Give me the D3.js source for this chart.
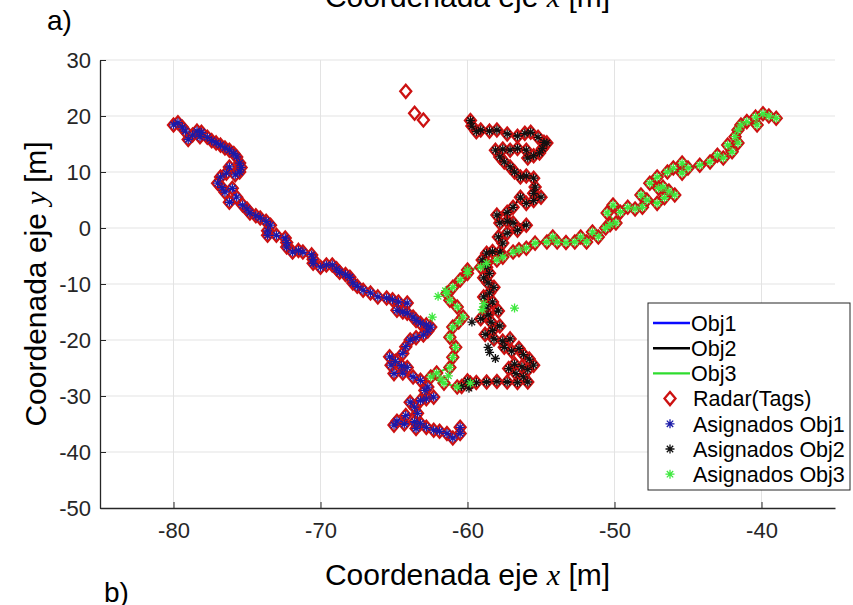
<!DOCTYPE html>
<html><head><meta charset="utf-8">
<script src="https://cdn.jsdelivr.net/npm/d3@7"></script>
<style>
html,body{margin:0;padding:0;background:#fff;}
svg{display:block;font-family:"Liberation Sans",Arial,Helvetica,sans-serif;}
</style></head>
<body><svg id="chart" width="853" height="605"></svg>
<script>
// ---------------- data ----------------
const xTicks = [-80, -70, -60, -50, -40];
const yTicks = [-50, -40, -30, -20, -10, 0, 10, 20, 30];
const seriesNames = ["Obj1", "Obj2", "Obj3"];
const legendLabels = ["Obj1", "Obj2", "Obj3", "Radar(Tags)", "Asignados Obj1", "Asignados Obj2", "Asignados Obj3"];

const obj1 = [[-80,18.4],[-79.7,18.8],[-79.4,18.0],[-79.2,17.3],[-79,15.8],[-78.7,16.6],[-78.4,17.3],[-78.2,16.3],[-78.1,17.1],[-77.7,16.2],[-77.4,15.6],[-77.1,15.2],[-76.8,14.8],[-76.5,14.3],[-76.2,13.9],[-75.9,13.3],[-75.7,12.7],[-75.5,11.6],[-75.4,10.8],[-75.5,10.0],[-75.8,9.5],[-76.2,10.9],[-76.4,9.8],[-76.8,9.1],[-77.0,8.0],[-76.7,7.2],[-76.5,6.4],[-76.0,7.1],[-75.7,5.5],[-76.2,4.6],[-75.3,4.1],[-75.0,3.4],[-74.8,2.7],[-74.4,2.2],[-74.1,1.8],[-73.7,1.2],[-73.4,0.5],[-73.6,-0.5],[-73.6,-1.3],[-73.0,-1.3],[-72.4,-1.8],[-72.3,-2.6],[-72.3,-3.4],[-71.9,-4.3],[-71.5,-4.0],[-71.2,-4.3],[-70.6,-4.8],[-70.5,-5.6],[-70.5,-6.3],[-70.0,-7.0],[-69.6,-6.6],[-69.2,-6.6],[-68.9,-7.3],[-68.7,-7.9],[-68.3,-8.3],[-68.0,-8.8],[-67.8,-9.8],[-67.5,-10.4],[-67.1,-11.1],[-66.6,-11.6],[-66.1,-12.3],[-65.5,-12.5],[-65.1,-12.8],[-64.7,-13.2],[-64.1,-13.4],[-64.8,-14.7],[-64.4,-15.0],[-64.1,-15.2],[-63.7,-15.9],[-63.5,-16.5],[-63.2,-17.0],[-62.8,-17.3],[-62.5,-17.7],[-62.7,-18.4],[-63.0,-19.1],[-63.5,-19.6],[-63.9,-20.0],[-64.2,-21.2],[-64.4,-22.4],[-65.3,-23.0],[-64.9,-23.8],[-65.2,-24.5],[-64.5,-24.6],[-64.1,-24.9],[-65.0,-26.0],[-64.4,-25.9],[-63.7,-26.6],[-63.2,-27.2],[-62.7,-28.4],[-62.9,-29.0],[-62.3,-30.2],[-62.8,-30.5],[-63.2,-30.8],[-63.9,-31.1],[-63.6,-32.0],[-63.4,-33.1],[-64.2,-33.5],[-64.8,-34.5],[-65.0,-35.2],[-64.3,-35.0],[-63.6,-34.6],[-63.2,-34.9],[-63.5,-35.8],[-62.8,-35.6],[-62.3,-36.1],[-61.9,-36.3],[-61.4,-36.7],[-61.0,-37.5],[-60.5,-36.7],[-60.5,-35.6]];

const obj2 = [[-59.8,19.2],[-59.7,18.2],[-59.4,17.2],[-59.1,17.5],[-58.5,17.3],[-58.0,17.5],[-57.3,16.8],[-56.6,16.4],[-56.1,16.9],[-55.7,17.1],[-55.2,16.2],[-54.8,15.3],[-54.6,15.2],[-54.9,14.2],[-55.1,13.4],[-55.5,12.9],[-55.9,12.5],[-56.0,13.9],[-56.6,14.2],[-57.1,13.9],[-57.6,14.1],[-58.1,13.9],[-57.8,12.7],[-57.5,11.8],[-57.1,10.9],[-56.8,10.0],[-56.4,9.1],[-56.0,9.3],[-55.5,8.9],[-55.4,7.3],[-55.5,6.2],[-55.0,5.5],[-55.5,4.9],[-56.0,4.4],[-56.4,5.5],[-56.9,3.7],[-57.3,2.8],[-58.0,2.3],[-57.8,0.9],[-57.3,1.2],[-56.9,0.9],[-56.0,0.5],[-56.6,-0.4],[-57.3,-0.9],[-57.9,-1.6],[-57.6,-2.7],[-57.8,-4.3],[-58.3,-4.2],[-58.7,-4.5],[-59.0,-5.7],[-58.7,-7.0],[-58.5,-8.1],[-58.9,-8.9],[-58.6,-9.8],[-58.2,-10.6],[-58.5,-11.6],[-58.9,-12.3],[-58.7,-14.1],[-58.3,-13.2],[-57.9,-14.8],[-58.6,-15.5],[-59.1,-16.2],[-58.4,-16.8],[-57.8,-17.5],[-58.3,-18.3],[-58.8,-19.0],[-58.2,-19.8],[-57.6,-20.2],[-57.1,-19.8],[-57.5,-21.3],[-57.0,-22.0],[-56.5,-21.5],[-56.2,-22.6],[-55.8,-23.4],[-55.5,-24.5],[-55.9,-25.3],[-56.3,-24.8],[-56.8,-24.3],[-57.2,-25.1],[-56.7,-26.0],[-56.2,-26.6],[-55.9,-27.5],[-56.6,-27.6],[-57.3,-27.5],[-58.0,-27.4],[-58.7,-27.5],[-59.4,-27.6],[-60.0,-27.3],[-60.4,-28.3]];

const obj3 = [[-39.0,19.6],[-39.5,20.0],[-39.9,20.4],[-40.4,19.8],[-40.3,18.4],[-41.0,19.0],[-41.4,18.4],[-41.6,17.5],[-41.8,16.3],[-41.6,15.2],[-42.3,14.8],[-42.0,13.6],[-42.6,12.5],[-43.0,13.0],[-43.5,11.8],[-44.2,11.2],[-45.0,10.7],[-45.4,11.6],[-45.4,9.8],[-46.0,10.7],[-46.4,10.0],[-47.1,9.1],[-47.6,8.0],[-47.0,7.1],[-46.7,7.3],[-46.3,6.6],[-45.9,5.9],[-46.6,5.4],[-47.1,4.4],[-47.8,5.0],[-48.2,5.9],[-48.1,3.7],[-48.6,3.4],[-49.1,3.7],[-49.6,2.8],[-50.1,4.1],[-50.5,2.7],[-49.9,0.9],[-50.3,0.6],[-50.6,0.0],[-51.1,-1.6],[-51.5,-0.7],[-51.9,-2.5],[-52.3,-1.6],[-52.7,-2.5],[-53.3,-2.6],[-53.9,-2.5],[-54.2,-1.6],[-54.6,-2.5],[-55.4,-2.7],[-56.0,-3.6],[-56.5,-3.9],[-56.9,-4.3],[-57.6,-5.2],[-58.0,-5.7],[-58.7,-6.3],[-59.1,-7.0],[-60.0,-7.5],[-60.0,-8.1],[-60.5,-9.3],[-61.0,-10.6],[-61.4,-11.7],[-61.2,-12.9],[-60.7,-14.1],[-60.3,-15.9],[-60.6,-16.8],[-61.0,-17.7],[-61.2,-19.5],[-60.8,-21.3],[-61.0,-23.1],[-61.2,-24.9],[-62.1,-25.9],[-62.5,-26.6],[-61.6,-27.7],[-60.7,-28.4],[-59.8,-27.7]];

// radar tags with no assignment
const extraTags = [[-64.2,24.4],[-63.6,20.5],[-63.0,19.3]];
// assigned stars that lie off the tracks
const extraStars2 = [[-59.7,-16.8],[-58.6,-21.3],[-58.5,-22.2],[-58.1,-23.3],[-59.9,-28.6]];
const extraStars3 = [[-56.8,-14.3],[-62.4,-15.9],[-62.0,-12.2],[-61.5,-11.2],[-58.9,-13.5],[-59.0,-14.6],[-61.8,-27.0],[-61.3,-26.4]];

// ---------------- drawing ----------------
const colors = {obj1:"#0a0aff", obj2:"#000000", obj3:"#2edc2e", tag:"#cc1111",
  star1:"#1a1aa8", star2:"#111111", star3:"#3ee83e"};
const svg = d3.select("#chart");
const x = d3.scaleLinear().domain([-85,-35]).range([100,835]);
const y = d3.scaleLinear().domain([-50,30]).range([508,60]);

// grid
const grid = svg.append("g");
grid.selectAll("line.v").data(xTicks).enter().append("line")
  .attr("x1", d=>x(d)).attr("x2", d=>x(d)).attr("y1", y(30)).attr("y2", y(-50))
  .attr("stroke","#e3e3e3").attr("stroke-width",1);
grid.selectAll("line.h").data(yTicks.filter(d=>d>-50)).enter().append("line")
  .attr("y1", d=>y(d)).attr("y2", d=>y(d)).attr("x1", x(-85)).attr("x2", x(-35))
  .attr("stroke","#e3e3e3").attr("stroke-width",1);

// axes
const fontTick = 22;
const xAxis = svg.append("g").attr("transform",`translate(0,${y(-50)})`)
  .call(d3.axisBottom(x).tickValues(xTicks).tickSizeInner(-6).tickSizeOuter(0).tickPadding(14).tickFormat(d3.format("d")));
const yAxis = svg.append("g").attr("transform",`translate(${x(-85)},0)`)
  .call(d3.axisLeft(y).tickValues(yTicks).tickSizeInner(-6).tickSizeOuter(0).tickPadding(9).tickFormat(d3.format("d")));
[xAxis,yAxis].forEach(a=>{
  a.select(".domain").attr("stroke","#262626").attr("stroke-width",1.3);
  a.selectAll(".tick line").attr("stroke","#262626");
  a.selectAll(".tick text").attr("fill","#262626").style("font-size",fontTick+"px")
   .style("font-family",'"Liberation Sans",Arial,sans-serif');
});
svg.selectAll(".tick text").text(function(){return this.textContent.replace("\u2212","-");});

// plot content
const line = d3.line().x(d=>x(d[0])).y(d=>y(d[1]));
const plot = svg.append("g");
[[obj1,colors.obj1],[obj2,colors.obj2],[obj3,colors.obj3]].forEach(([data,c])=>{
  plot.append("path").datum(data).attr("d",line).attr("fill","none")
    .attr("stroke",c).attr("stroke-width",2).attr("stroke-linejoin","round");
});
const diamond = "M0,-6.5L5.5,0L0,6.5L-5.5,0Z";
const allTags = obj1.concat(obj2, obj3, extraTags);
plot.selectAll("path.tag").data(allTags).enter().append("path")
  .attr("d",diamond).attr("transform",d=>`translate(${x(d[0])},${y(d[1])})`)
  .attr("fill","none").attr("stroke",colors.tag).attr("stroke-width",2.3);

const star = "M-4.5,0H4.5M0,-4.5V4.5M-3.2,-3.2L3.2,3.2M-3.2,3.2L3.2,-3.2";
[[obj1,colors.star1],[obj2.concat(extraStars2),colors.star2],[obj3.concat(extraStars3),colors.star3]].forEach(([data,c])=>{
  plot.append("g").selectAll("path").data(data).enter().append("path")
    .attr("d",star).attr("transform",d=>`translate(${x(d[0])},${y(d[1])})`)
    .attr("fill","none").attr("stroke",c).attr("stroke-width",1.3);
});

// labels
const labelFont = 30;
function axisLabel(g, xpos, ypos, rotate, italicChar){
  const t = g.append("text").attr("x",xpos).attr("y",ypos).attr("text-anchor","middle")
    .attr("fill","#000").style("font-size",labelFont+"px");
  if(rotate) t.attr("transform",`rotate(-90,${xpos},${ypos})`);
  t.append("tspan").text("Coordenada eje ");
  t.append("tspan").text(italicChar).style("font-family",'"Liberation Serif","Times New Roman",serif').style("font-style","italic");
  t.append("tspan").text(" [m]");
}
axisLabel(svg, (x(-85)+x(-35))/2, 7, false, "x");
axisLabel(svg, (x(-85)+x(-35))/2, 585, false, "x");
axisLabel(svg, 46, (y(30)+y(-50))/2, true, "y");

svg.append("text").attr("x",47).attr("y",30).style("font-size","28px").attr("fill","#000").text("a)");
svg.append("text").attr("x",104).attr("y",602).style("font-size","28px").attr("fill","#000").text("b)");

// legend
const lg = svg.append("g");
lg.append("rect").attr("x",648).attr("y",303).attr("width",202).attr("height",187)
  .attr("fill","#fff").attr("stroke","#262626").attr("stroke-width",1);
const legendColors = [colors.obj1, colors.obj2, colors.obj3];
legendLabels.forEach((lab,i)=>{
  const cy = 323 + i*25.2;
  if(i<3){
    lg.append("line").attr("x1",653).attr("x2",690).attr("y1",cy).attr("y2",cy)
      .attr("stroke",legendColors[i]).attr("stroke-width",2.4);
    lg.append("text").attr("x",691).attr("y",cy).attr("dy","0.36em").style("font-size","21.5px").attr("fill","#000").text(lab);
  } else {
    if(i===3){
      lg.append("path").attr("d",diamond).attr("transform",`translate(670,${cy})`)
        .attr("fill","none").attr("stroke",colors.tag).attr("stroke-width",2.3);
    } else {
      const sc = [colors.star1,colors.star2,colors.star3][i-4];
      lg.append("path").attr("d",star).attr("transform",`translate(670,${cy})`)
        .attr("fill","none").attr("stroke",sc).attr("stroke-width",1.3);
    }
    lg.append("text").attr("x",693).attr("y",cy).attr("dy","0.36em").style("font-size","21.5px").attr("fill","#000").text(lab);
  }
});
</script>
</body></html>
